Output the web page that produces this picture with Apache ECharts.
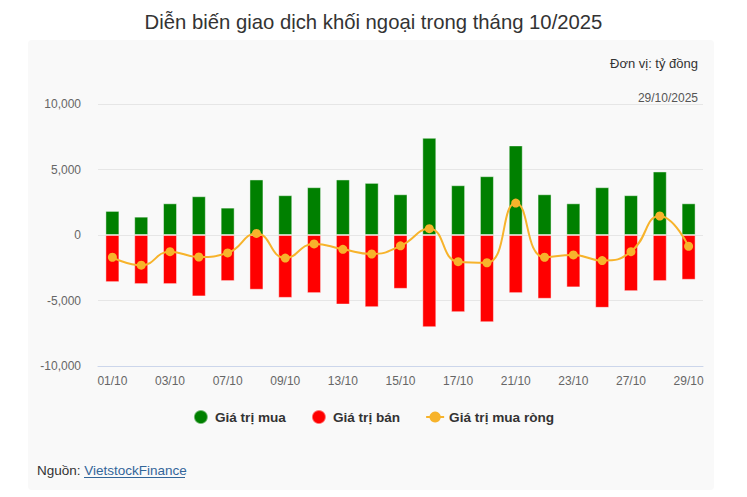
<!DOCTYPE html>
<html>
<head>
<meta charset="utf-8">
<script src="https://cdn.jsdelivr.net/npm/echarts@6/dist/echarts.min.js"></script>
<style>
html,body{margin:0;padding:0;background:#fff;}
#panel{position:absolute;left:28px;top:40px;width:686px;height:450px;background:#f9f9f9;border-radius:4px;}
#chart{position:absolute;left:0;top:0;width:747px;height:497px;}
</style>
</head>
<body>
<div id="panel"></div>
<div id="chart"></div>
<script>
const categories = ['01/10','02/10','03/10','06/10','07/10','08/10','09/10','10/10','13/10','14/10','15/10','16/10','17/10','20/10','21/10','22/10','23/10','24/10','27/10','28/10','29/10'];
const buyValues = [1840,1400,2420,2960,2090,4240,3040,3650,4240,3980,3110,7420,3800,4490,6840,3110,2420,3650,3040,4850,2420];
const sellValues = [-3600,-3750,-3750,-4690,-3520,-4180,-4800,-4440,-5310,-5510,-4110,-7040,-5890,-6660,-4440,-4870,-4000,-5560,-4290,-3520,-3420];
const netValues = [-1700,-2300,-1270,-1680,-1370,120,-1760,-680,-1090,-1450,-830,480,-2040,-2120,2440,-1700,-1520,-1950,-1270,1450,-860];
const yTicks = {min:-10000, max:10000, interval:5000};

const chart = echarts.init(document.getElementById('chart'), null, {renderer:'svg', width:747, height:497});
const fontFam = '"Liberation Sans", Arial, sans-serif';
chart.setOption({
  backgroundColor: 'transparent',
  textStyle: {fontFamily: fontFam},
  title: [
    {text:'Diễn biến giao dịch khối ngoại trong tháng 10/2025', left:'center', top:7,
     textStyle:{fontSize:20.3, fontWeight:'normal', color:'#333', fontFamily:fontFam}},
    {text:'Đơn vị: tỷ đồng', right:44, top:52,
     textStyle:{fontSize:13, fontWeight:'normal', color:'#333', fontFamily:fontFam}},
    {text:'29/10/2025', right:44, top:87,
     textStyle:{fontSize:12, fontWeight:'normal', color:'#555', fontFamily:fontFam}}
  ],
  graphic: [
    {type:'text', left:37, top:463,
     style:{text:'Nguồn: {link|VietstockFinance}', fontSize:13.5, fill:'#333', fontFamily:fontFam,
       rich:{link:{fontSize:13.5, fill:'#336699', fontFamily:fontFam}}}},
    {type:'line', shape:{x1:84, y1:477.5, x2:185, y2:477.5}, style:{stroke:'#336699', lineWidth:1}}
  ],
  legend: {
    top: 404, left:'center', itemGap: 25, itemWidth: 18, itemHeight: 14,
    textStyle:{fontSize:13.6, fontWeight:'bold', color:'#333', fontFamily:fontFam},
    data: [
      {name:'Giá trị mua', icon:'circle'},
      {name:'Giá trị bán', icon:'circle'},
      {name:'Giá trị mua ròng'}
    ]
  },
  grid: {left:98, right:44, top:104, bottom:131},
  xAxis: {
    type:'category', data: categories,
    axisLine:{onZero:false, lineStyle:{color:'#ccd6eb'}},
    axisTick:{show:false},
    axisLabel:{interval:1, color:'#666', fontSize:12, margin:9, fontFamily:fontFam}
  },
  yAxis: {
    type:'value', min:yTicks.min, max:yTicks.max, interval:yTicks.interval,
    axisLabel:{color:'#666', fontSize:12, margin:17, fontFamily:fontFam,
      formatter: v => v.toLocaleString('en-US')},
    splitLine:{lineStyle:{color:'#e6e6e6'}},
    axisLine:{show:false}, axisTick:{show:false}
  },
  series: [
    {name:'Giá trị mua', type:'bar', data: buyValues, barWidth:14, barGap:'-100%',
     itemStyle:{color:'#008000', borderColor:'rgba(255,255,255,0.45)', borderWidth:1}},
    {name:'Giá trị bán', type:'bar', data: sellValues, barWidth:14,
     itemStyle:{color:'#ff0000', borderColor:'rgba(255,255,255,0.45)', borderWidth:1}},
    {name:'Giá trị mua ròng', type:'line', data: netValues, smooth:true,
     symbol:'circle', symbolSize:9,
     lineStyle:{color:'#f7b32b', width:2}, itemStyle:{color:'#f7b32b'}, z:5}
  ]
});
</script>
</body>
</html>
